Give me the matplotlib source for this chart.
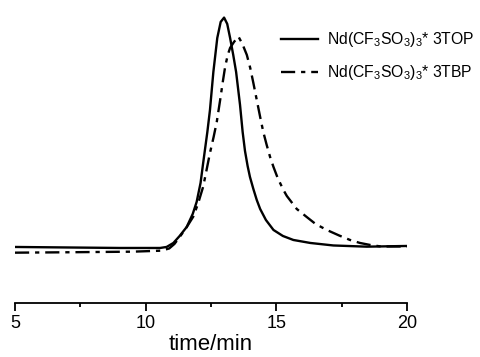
import numpy as np
import matplotlib.pyplot as plt
from matplotlib.ticker import MultipleLocator

plt.rcParams['font.family'] = 'Liberation Sans'
plt.rcParams['mathtext.fontset'] = 'custom'
plt.rcParams['mathtext.rm'] = 'Liberation Sans'
plt.rcParams['mathtext.it'] = 'Liberation Sans'

# elution curves, signal in arbitrary units
t_top = [5.0, 7.0, 9.0, 10.55, 10.8, 11.06, 11.3, 11.57, 11.8, 11.95, 12.1,
         12.2, 12.36, 12.46, 12.59, 12.74, 12.87, 13.0, 13.12, 13.23, 13.35,
         13.46, 13.61, 13.71, 13.8, 13.9, 13.99, 14.12, 14.25, 14.38, 14.6,
         14.89, 15.25, 15.65, 16.3, 17.18, 18.46, 20.0]
s_top = [56, 55.5, 55, 55, 56, 60, 67, 76, 89, 101, 120,
         140, 171, 193, 231, 265, 281, 285.3, 279, 265, 248,
         231, 198, 171, 152, 137, 126, 114, 103, 94, 83,
         73, 67, 63, 60, 57.5, 56.3, 57]

t_tbp = [5.0, 7.0, 9.5, 10.6, 10.9, 11.1, 11.31, 11.55, 11.82, 12.0, 12.2,
         12.33, 12.46, 12.6, 12.72, 12.85, 12.95, 13.04, 13.14, 13.23, 13.38,
         13.55, 13.7, 13.87, 14.0, 14.12, 14.25, 14.38, 14.5, 14.63, 14.76,
         14.89, 15.05, 15.27, 15.4, 15.78, 16.16, 16.5, 16.93, 17.4, 17.82,
         18.2, 18.59, 19.0, 20.0]
s_tbp = [50.3, 50.7, 51.3, 52.3, 54.5, 59, 66.3, 75, 86.3, 99, 116.3,
         133, 150, 166, 181, 203, 221, 236, 248, 255, 261,
         266.3, 259, 248, 235, 220, 203, 186, 171, 158, 146,
         136, 125, 113, 107, 94, 86, 79, 73, 67.5, 63,
         60, 58, 56.5, 56.5]

labels = [r'Nd(CF$_3$SO$_3$)$_3$* 3TOP', r'Nd(CF$_3$SO$_3$)$_3$* 3TBP']

fig = plt.figure(figsize=(4.81, 3.57), dpi=100)
ax = fig.add_axes([0.0312, 0.1513, 0.815, 0.821])

ax.plot(t_top, s_top, color='black', lw=1.7, label=labels[0])
ax.plot(t_tbp, s_tbp, color='black', lw=1.7, linestyle=(0, (6, 2.5, 1.8, 2.5)),
        label=labels[1])

ax.set_xlim(5, 20)
ax.set_ylim(0, 293)
for side in ['top', 'right', 'left']:
    ax.spines[side].set_visible(False)
ax.spines['bottom'].set_linewidth(1.3)
ax.set_yticks([])
ax.xaxis.set_major_locator(MultipleLocator(5))
ax.xaxis.set_minor_locator(MultipleLocator(2.5))
ax.tick_params(axis='x', which='major', length=6, width=1.3, labelsize=13, pad=3)
ax.tick_params(axis='x', which='minor', length=3, width=1.3)
ax.set_xlabel('time/min', fontsize=16, labelpad=1)

ax.legend(loc='upper left', bbox_to_anchor=(281 / 481, 1 - 30 / 357),
          bbox_transform=fig.transFigure, frameon=False, fontsize=11.3,
          handlelength=2.35, handletextpad=0.6, labelspacing=0.9,
          borderpad=0, borderaxespad=0)

fig.savefig('out.png', dpi=100)
